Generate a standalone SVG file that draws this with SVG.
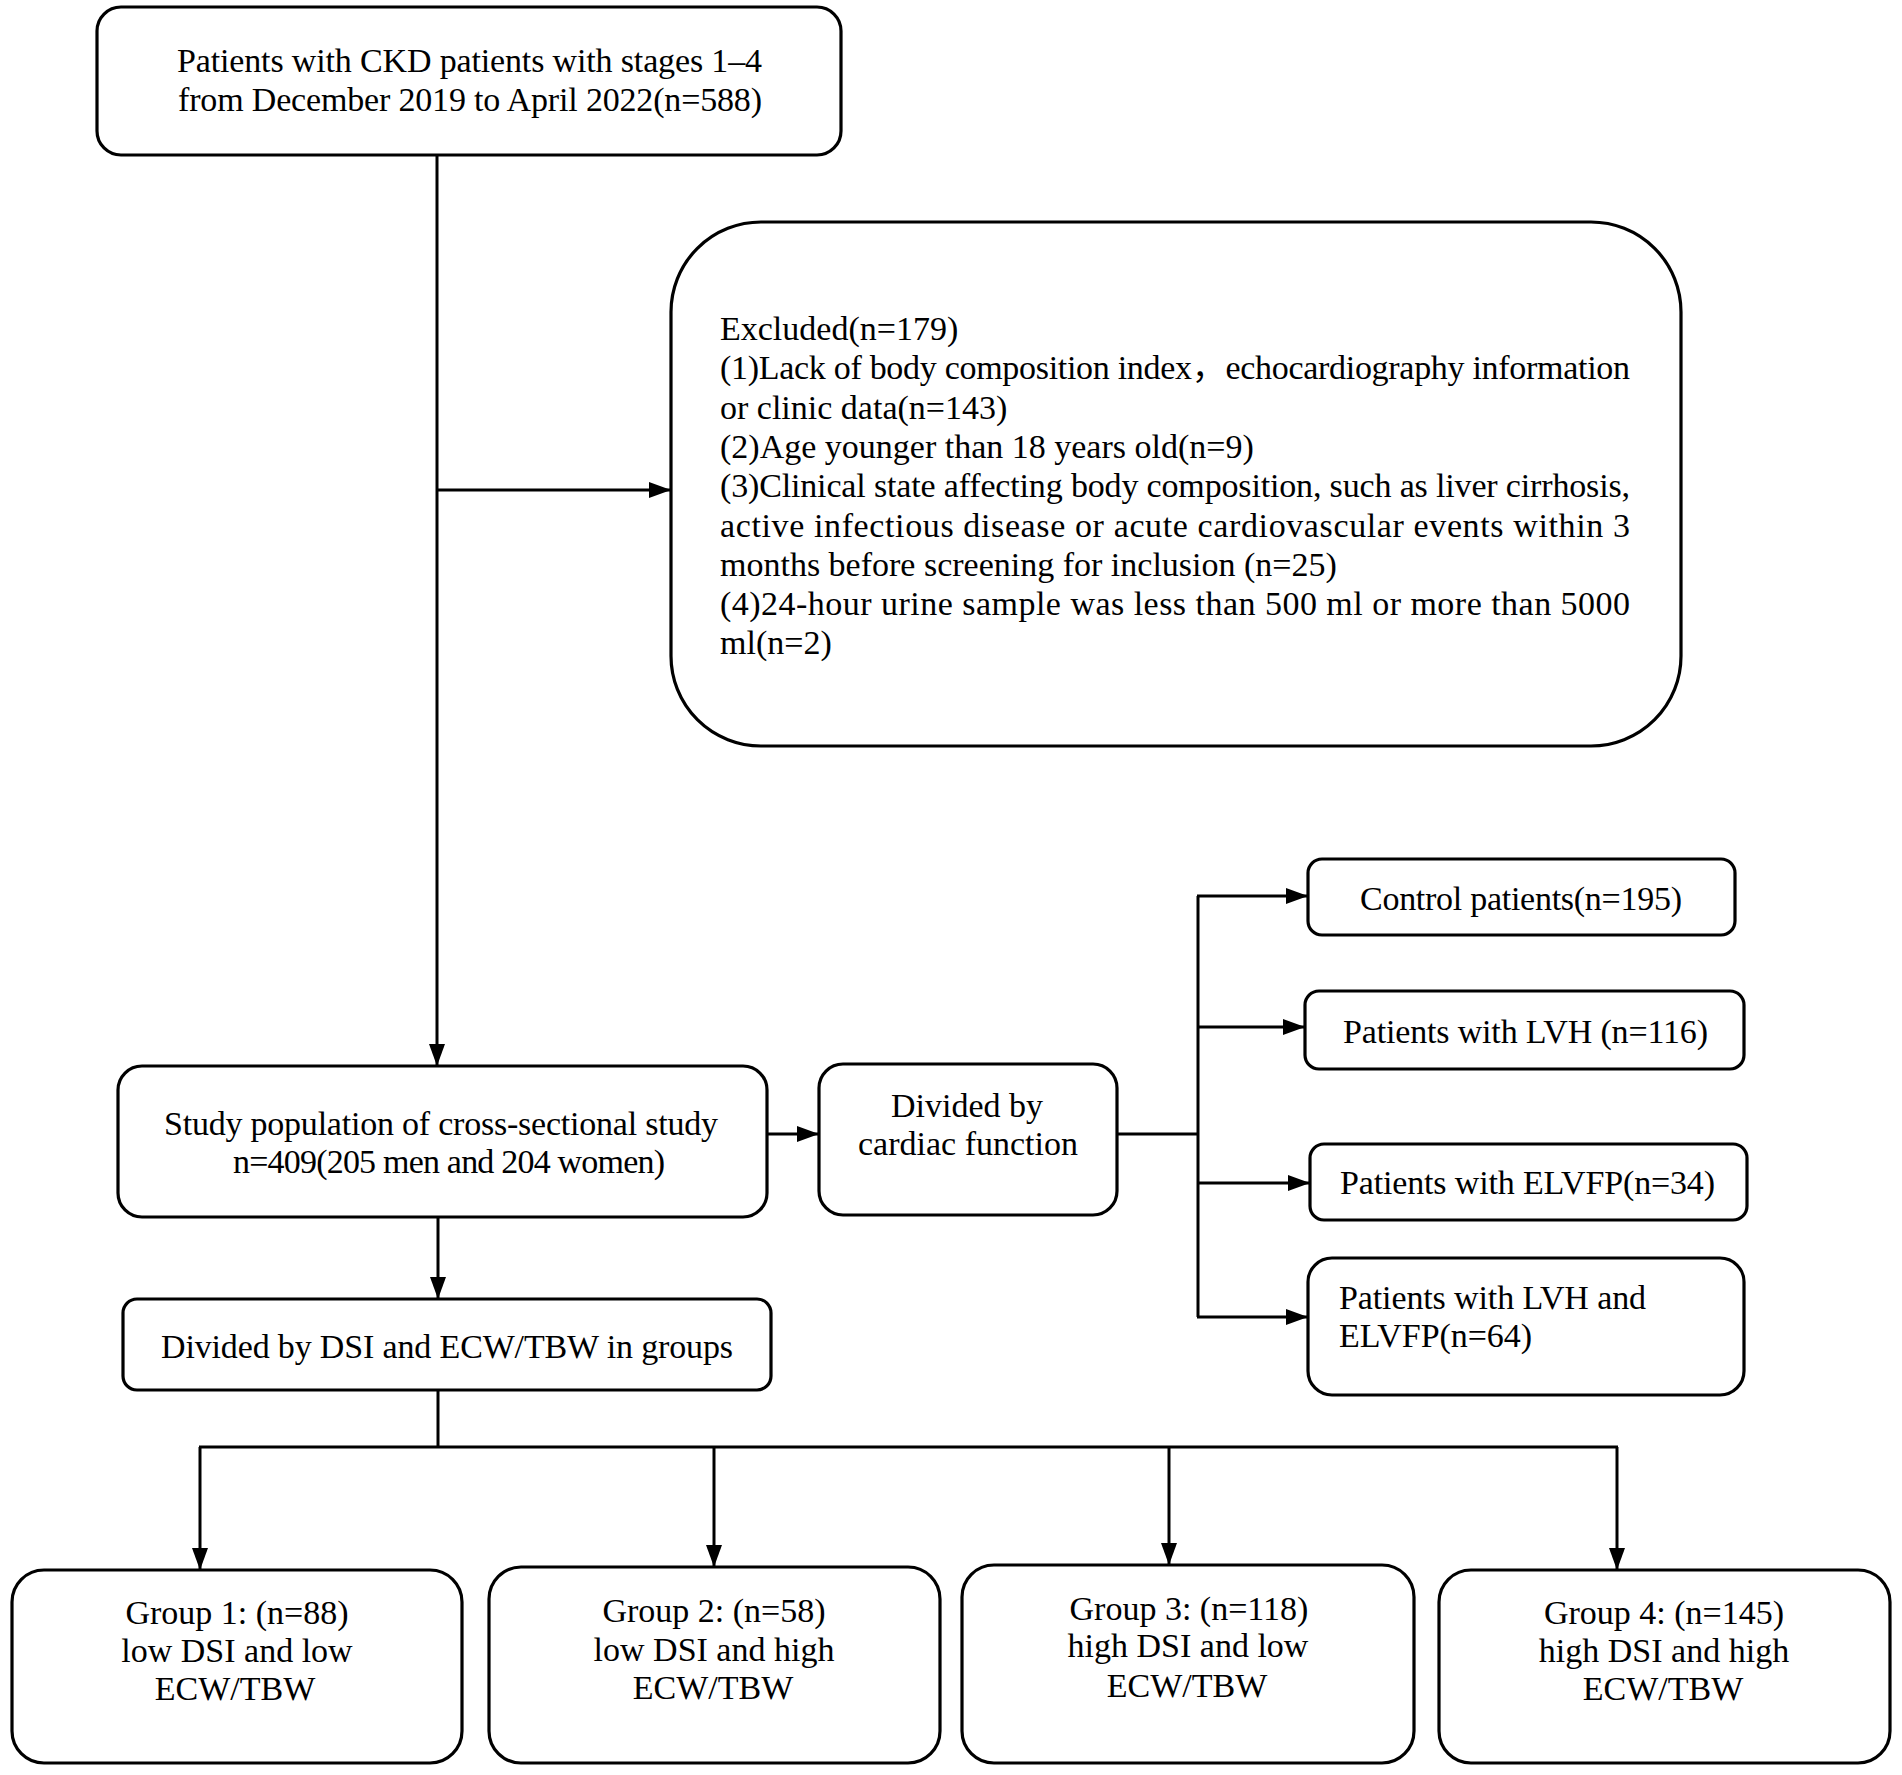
<svg xmlns="http://www.w3.org/2000/svg" width="1902" height="1775" viewBox="0 0 1902 1775">
<style>
.box{fill:#fff;stroke:#000;stroke-width:3.2}
.t{font-family:"Liberation Serif","Noto Sans CJK SC",serif;font-size:34px;fill:#000}
.c{text-anchor:middle}
.ln{fill:none;stroke:#000;stroke-width:3}
</style>
<defs>
<marker id="ah" markerUnits="userSpaceOnUse" viewBox="0 0 22 16" refX="22" refY="8" markerWidth="22" markerHeight="16" orient="auto">
<path d="M0,0 L22,8 L0,16 z" fill="#000"/>
</marker>
</defs>
<rect width="1902" height="1775" fill="#fff"/>
<g id="connectors">
<line class="ln" x1="437" y1="155" x2="437" y2="1066" marker-end="url(#ah)"/>
<line class="ln" x1="437" y1="490" x2="671" y2="490" marker-end="url(#ah)"/>
<line class="ln" x1="767" y1="1134" x2="819" y2="1134" marker-end="url(#ah)"/>
<line class="ln" x1="1117" y1="1134" x2="1198" y2="1134"/>
<line class="ln" x1="1198" y1="896" x2="1198" y2="1317"/>
<line class="ln" x1="1197" y1="896" x2="1308" y2="896" marker-end="url(#ah)"/>
<line class="ln" x1="1197" y1="1027" x2="1305" y2="1027" marker-end="url(#ah)"/>
<line class="ln" x1="1197" y1="1183" x2="1310" y2="1183" marker-end="url(#ah)"/>
<line class="ln" x1="1197" y1="1317" x2="1308" y2="1317" marker-end="url(#ah)"/>
<line class="ln" x1="438" y1="1217" x2="438" y2="1299" marker-end="url(#ah)"/>
<line class="ln" x1="438" y1="1390" x2="438" y2="1447"/>
<line class="ln" x1="199" y1="1447" x2="1618" y2="1447"/>
<line class="ln" x1="200" y1="1447" x2="200" y2="1570" marker-end="url(#ah)"/>
<line class="ln" x1="714" y1="1447" x2="714" y2="1567" marker-end="url(#ah)"/>
<line class="ln" x1="1169" y1="1447" x2="1169" y2="1565" marker-end="url(#ah)"/>
<line class="ln" x1="1617" y1="1447" x2="1617" y2="1570" marker-end="url(#ah)"/>
</g>
<g id="n-patients">
<rect class="box" x="97" y="7" width="744" height="148" rx="24"/>
<text class="t" x="177" y="72" textLength="585" lengthAdjust="spacing">Patients with CKD patients with stages 1–4</text>
<text class="t" x="178" y="111" textLength="584" lengthAdjust="spacing">from December 2019 to April 2022(n=588)</text>
</g>
<g id="n-excluded">
<rect class="box" x="671" y="222" width="1010" height="524" rx="90"/>
<text class="t" x="720" y="340">Excluded(n=179)</text>
<text class="t" x="720" y="379" textLength="910" lengthAdjust="spacing">(1)Lack of body composition index，echocardiography information</text>
<text class="t" x="720" y="419">or clinic data(n=143)</text>
<text class="t" x="720" y="458">(2)Age younger than 18 years old(n=9)</text>
<text class="t" x="720" y="497" textLength="910" lengthAdjust="spacing">(3)Clinical state affecting body composition, such as liver cirrhosis,</text>
<text class="t" x="720" y="537" textLength="910" lengthAdjust="spacing">active infectious disease or acute cardiovascular events within 3</text>
<text class="t" x="720" y="576">months before screening for inclusion (n=25)</text>
<text class="t" x="720" y="615" textLength="910" lengthAdjust="spacing">(4)24-hour urine sample was less than 500 ml or more than 5000</text>
<text class="t" x="720" y="654">ml(n=2)</text>
</g>
<g id="n-study">
<rect class="box" x="118" y="1066" width="649" height="151" rx="24"/>
<text class="t" x="164" y="1135" textLength="554" lengthAdjust="spacing">Study population of cross-sectional study</text>
<text class="t" x="233" y="1173" textLength="432" lengthAdjust="spacing">n=409(205 men and 204 women)</text>
</g>
<g id="n-cardiac">
<rect class="box" x="819" y="1064" width="298" height="151" rx="24"/>
<text class="t c" x="967" y="1117">Divided by</text>
<text class="t c" x="968" y="1155">cardiac function</text>
</g>
<g id="n-control">
<rect class="box" x="1308" y="859" width="427" height="76" rx="14"/>
<text class="t" x="1360" y="910" textLength="322" lengthAdjust="spacing">Control patients(n=195)</text>
</g>
<g id="n-lvh">
<rect class="box" x="1305" y="991" width="439" height="78" rx="14"/>
<text class="t" x="1343" y="1043" textLength="365" lengthAdjust="spacing">Patients with LVH (n=116)</text>
</g>
<g id="n-elvfp">
<rect class="box" x="1310" y="1144" width="437" height="76" rx="14"/>
<text class="t" x="1340" y="1194" textLength="375" lengthAdjust="spacing">Patients with ELVFP(n=34)</text>
</g>
<g id="n-lvh-elvfp">
<rect class="box" x="1308" y="1258" width="436" height="137" rx="24"/>
<text class="t" x="1339" y="1309" textLength="307" lengthAdjust="spacing">Patients with LVH and</text>
<text class="t" x="1339" y="1347" textLength="193" lengthAdjust="spacing">ELVFP(n=64)</text>
</g>
<g id="n-dsi">
<rect class="box" x="123" y="1299" width="648" height="91" rx="14"/>
<text class="t" x="161" y="1358" textLength="572" lengthAdjust="spacing">Divided by DSI and ECW/TBW in groups</text>
</g>
<g id="n-g1">
<rect class="box" x="12" y="1570" width="450" height="193" rx="32"/>
<text class="t c" x="237" y="1624">Group 1: (n=88)</text>
<text class="t c" x="237" y="1662">low DSI and low</text>
<text class="t c" x="235" y="1700">ECW/TBW</text>
</g>
<g id="n-g2">
<rect class="box" x="489" y="1567" width="451" height="196" rx="32"/>
<text class="t c" x="714" y="1622">Group 2: (n=58)</text>
<text class="t c" x="714" y="1661">low DSI and high</text>
<text class="t c" x="713" y="1699">ECW/TBW</text>
</g>
<g id="n-g3">
<rect class="box" x="962" y="1565" width="452" height="198" rx="32"/>
<text class="t c" x="1189" y="1620">Group 3: (n=118)</text>
<text class="t c" x="1188" y="1657">high DSI and low</text>
<text class="t c" x="1187" y="1697">ECW/TBW</text>
</g>
<g id="n-g4">
<rect class="box" x="1439" y="1570" width="451" height="193" rx="32"/>
<text class="t c" x="1664" y="1624">Group 4: (n=145)</text>
<text class="t c" x="1664" y="1662">high DSI and high</text>
<text class="t c" x="1663" y="1700">ECW/TBW</text>
</g>
</svg>
